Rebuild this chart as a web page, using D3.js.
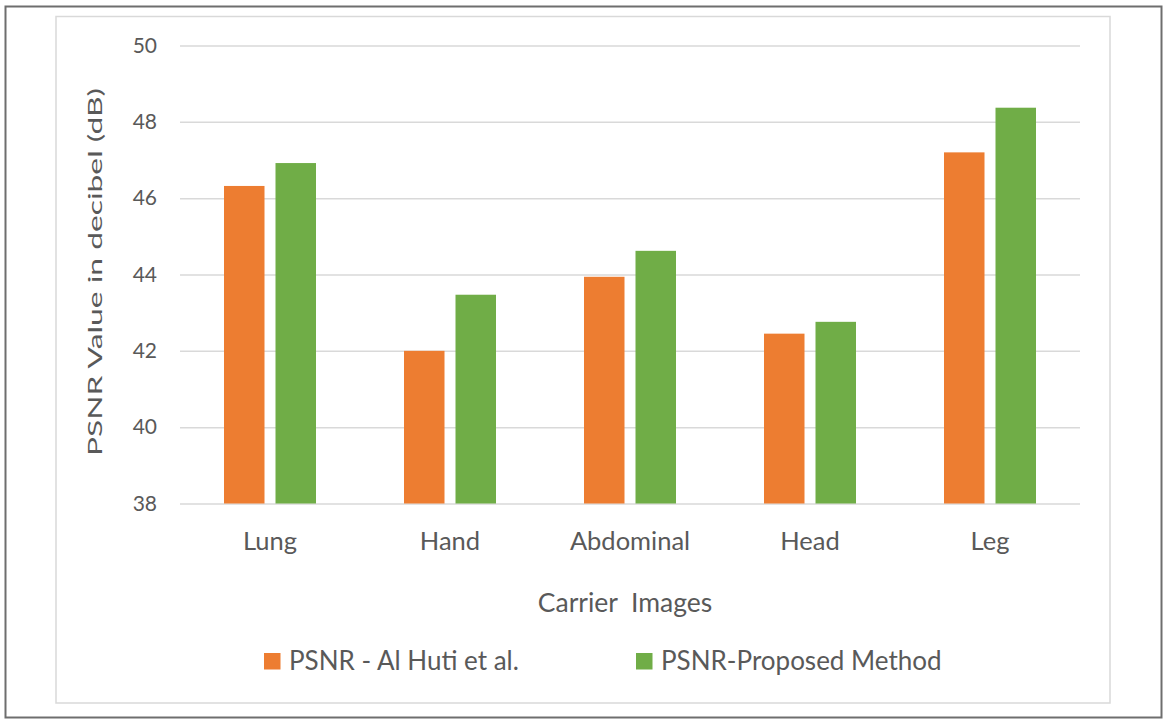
<!DOCTYPE html>
<html>
<head>
<meta charset="utf-8">
<script src="https://d3js.org/d3.v7.min.js"></script>
<style>
    body { margin: 0; background: #fff; }
    text { font-family: Lato, "Open Sans", sans-serif; fill: #595959; }
</style>
</head>
<body>
<svg width="1165" height="719"></svg>
<script>

// chart data
var categories = ['Lung', 'Hand', 'Abdominal', 'Head', 'Leg'];
var seriesNames = ['PSNR - Al Huti et al.', 'PSNR-Proposed Method'];
var alHuti = [46.32, 42.0, 43.94, 42.45, 47.2];
var proposed = [46.92, 43.47, 44.62, 42.76, 48.37];
var yTicks = [38, 40, 42, 44, 46, 48, 50];
var colors = ['#ED7D31', '#70AD47'];

var svg = d3.select('svg');

// outer frame + chart area border
svg.append('rect')
    .attr('x', 5.5).attr('y', 6.5)
    .attr('width', 1156).attr('height', 711)
    .attr('fill', 'none').attr('stroke', '#6e6e6e').attr('stroke-width', 2);
svg.append('rect')
    .attr('x', 56).attr('y', 16.5)
    .attr('width', 1054).attr('height', 686.5)
    .attr('fill', 'none').attr('stroke', '#d9d9d9').attr('stroke-width', 1.5);

var plotLeft = 180, plotRight = 1080, plotTop = 45.5, plotBottom = 503.5;

var x = d3.scaleBand().domain(categories).range([plotLeft, plotRight]);
var y = d3.scaleLinear().domain([38, 50]).range([plotBottom, plotTop]);

// gridlines + tick labels via axis
var yAxis = svg.append('g')
    .attr('transform', 'translate(' + plotLeft + ',0)')
    .call(d3.axisLeft(y).tickValues(yTicks).tickSize(-(plotRight - plotLeft)).tickPadding(23).tickFormat(d3.format('d')));
yAxis.select('.domain').remove();
yAxis.selectAll('line').attr('stroke', '#d9d9d9').attr('stroke-width', 1.5);
yAxis.selectAll('text').style('font-size', '21px').attr('fill', '#595959');

var xAxis = svg.append('g')
    .attr('transform', 'translate(0,' + plotBottom + ')')
    .call(d3.axisBottom(x).tickSize(0).tickPadding(28));
xAxis.select('.domain').remove();
xAxis.selectAll('text').style('font-size', '25.5px').attr('fill', '#595959');

// bars
var barW = 40.5, gap = 11;
var series = [alHuti, proposed];
series.forEach(function(vals, s) {
    svg.append('g')
        .selectAll('rect')
        .data(vals)
        .enter()
        .append('rect')
        .attr('x', function(d, i) {
            var c = x(categories[i]) + x.bandwidth() / 2;
            return s === 0 ? c - gap / 2 - barW : c + gap / 2;
        })
        .attr('y', function(d) { return y(d); })
        .attr('width', barW)
        .attr('height', function(d) { return y(38) - y(d); })
        .attr('fill', colors[s]);
});

// axis titles
svg.append('text')
    .attr('x', 625).attr('y', 612)
    .attr('text-anchor', 'middle')
    .style('font-size', '26.5px')
    .style('white-space', 'pre')
    .text('Carrier  Images');

svg.append('text')
    .attr('transform', 'translate(102,272) rotate(-90)')
    .attr('text-anchor', 'middle')
    .attr('textLength', 368)
    .attr('lengthAdjust', 'spacingAndGlyphs')
    .style('font-size', '19.5px')
    .text('PSNR Value in decibel (dB)');

// legend
var legendX = [264, 636];
seriesNames.forEach(function(name, s) {
    svg.append('rect')
        .attr('x', legendX[s]).attr('y', 653)
        .attr('width', 16.5).attr('height', 16.5)
        .attr('fill', colors[s]);
    svg.append('text')
        .attr('x', legendX[s] + 25).attr('y', 670)
        .style('font-size', '26px')
        .text(name);
});

</script>
</body>
</html>
